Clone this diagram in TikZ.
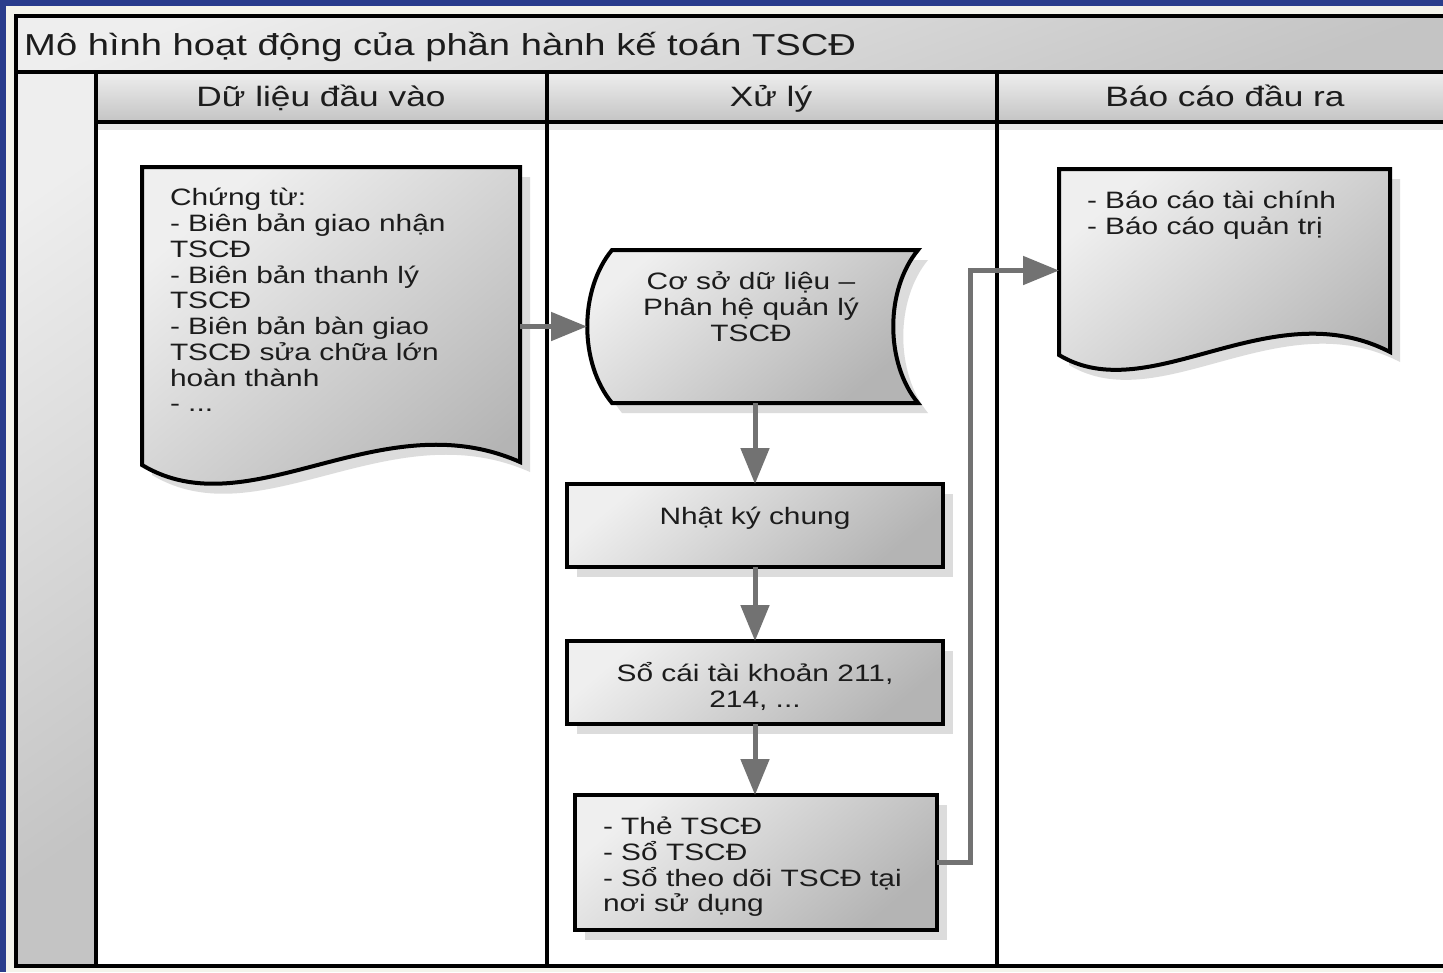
\documentclass[tikz,border=0pt]{standalone}
\usepackage{fontspec}
\setmainfont{Liberation Sans}[FakeStretch=1.26]
\usetikzlibrary{arrows.meta,shadows}
\definecolor{bgblue}{HTML}{2A3D8C}
\definecolor{cream}{HTML}{F4F4EC}
\definecolor{flowgray}{HTML}{727272}
\definecolor{shadowgray}{HTML}{DCDCDC}
\definecolor{txt}{HTML}{1C1C1C}
\definecolor{shpA}{HTML}{EFEFEF}
\definecolor{shpB}{HTML}{B4B4B4}
\definecolor{hdrA}{HTML}{EEEEEE}
\definecolor{hdrB}{HTML}{C4C4C4}
\newcommand\myTitleFont{\fontsize{30.3}{36}\selectfont}
\newcommand\myHeadFont{\fontsize{28}{34}\selectfont}
\newcommand\myBodyFont{\fontsize{23.7}{25.75}\selectfont}
\begin{document}
\begin{tikzpicture}[x=1pt,y=-1pt,
  frameline/.style={draw=black,line width=3.5pt},
  hdr/.style={top color=hdrA,bottom color=hdrB},
  shp/.style={draw=black,line width=4pt,line join=miter,top color=shpA,bottom color=shpB,shading angle=40,
    drop shadow={shadow xshift=10pt,shadow yshift=-10pt,fill=shadowgray,opacity=1}},
  ghost/.style={inner sep=0pt,outer sep=0pt,draw=none,fill=none},
  box/.style={shp,inner sep=0pt,outer sep=0pt},
  flow/.style={draw=flowgray,line width=5pt,-{Triangle[length=36pt,width=28pt]}},
  body/.style={font=\myBodyFont,text=txt,inner sep=0pt,outer sep=0pt},
  head/.style={font=\myHeadFont,text=txt,inner sep=0pt},
]
\useasboundingbox (0,0) rectangle (1443,972);
\clip (0,0) rectangle (1443,972);
% background
\fill[bgblue] (0,0) rectangle (1443,972);
\fill[cream] (6,6) rectangle (1443,972);
% pool
\fill[white] (16,16) rectangle (1460,966);
\shade[top color=hdrA,bottom color=hdrB,shading angle=20] (16,16) rectangle (1460,72);
\shade[top color=hdrA,bottom color=hdrB,shading angle=35] (16,72) rectangle (96,966);
\shade[hdr] (96,72) rectangle (1460,122);
\fill[black!9] (96,122) rectangle (1460,130);
\draw[frameline] (16,16) rectangle (1460,966);
\draw[frameline] (16,72) -- (1460,72);
\draw[frameline] (96,122) -- (1460,122);
\draw[frameline] (96,72) -- (96,966);
\draw[frameline] (547,72) -- (547,966);
\draw[frameline] (997,72) -- (997,966);
% titles
\node[font=\myTitleFont,text=txt,inner sep=0pt,anchor=base west] (title) at (24,55.5) {Mô hình hoạt động của phần hành kế toán TSCĐ};
\node[head,anchor=base] (h1) at (321,106) {Dữ liệu đầu vào};
\node[head,anchor=base] (h2) at (771,106) {Xử lý};
\node[head,anchor=base] (h3) at (1225,106) {Báo cáo đầu ra};
% shapes
\path[shp] (142,167) -- (520,167) -- (520,462) .. controls (380,400) and (250,530) .. (142,465) -- cycle;
\node[ghost,minimum width=378pt,minimum height=298pt] (doc1) at (331,316) {};
\path[shp] (612,250) -- (918,250) .. controls (885,290) and (885,363) .. (918,403) -- (612,403) .. controls (579,363) and (579,290) .. (612,250) -- cycle;
\node[ghost,minimum width=331pt,minimum height=153pt] (db) at (752.5,326.5) {};
\node[box,minimum width=376pt,minimum height=83pt] (njc) at (755,525.5) {};
\node[box,minimum width=376pt,minimum height=83pt] (soc) at (755,682.5) {};
\node[box,minimum width=362pt,minimum height=135pt] (the) at (756,862.5) {};
\path[shp] (1059,169) -- (1390,169) -- (1390,352) .. controls (1270,290) and (1150,410) .. (1059,355) -- cycle;
\node[ghost,minimum width=331pt,minimum height=203pt] (doc2) at (1224.5,270.5) {};
% texts
\node[body,align=left,anchor=north west] (doc1T) at (170,188.5) {Chứng từ:\\- Biên bản giao nhận\\TSCĐ\\- Biên bản thanh lý\\TSCĐ\\- Biên bản bàn giao\\TSCĐ sửa chữa lớn\\hoàn thành\\- ...};
\node[body,align=center] (dbT) at (751,306.5) {Cơ sở dữ liệu –\\Phân hệ quản lý\\TSCĐ};
\node[body,anchor=base] (njcT) at (755,524) {Nhật ký chung};
\node[body,align=center] (socT) at (755,686.5) {Sổ cái tài khoản 211,\\214, ...};
\node[body,align=left,anchor=north west] (theT) at (603,817) {- Thẻ TSCĐ\\- Sổ TSCĐ\\- Sổ theo dõi TSCĐ tại\\nơi sử dụng};
\node[body,align=left,anchor=north west] (doc2T) at (1087,191.5) {- Báo cáo tài chính\\- Báo cáo quản trị};
% connectors
\draw[flow] (doc1.east |- db.west) -- (db.west);
\draw[flow] (njc.north |- db.south) -- (njc.north);
\draw[flow] (njc.south) -- (soc.north);
\draw[flow] (soc.south) -- (soc.south |- the.north);
\draw[flow] (the.east) -- ++(33,0) |- (doc2.west);
\end{tikzpicture}
\end{document}
